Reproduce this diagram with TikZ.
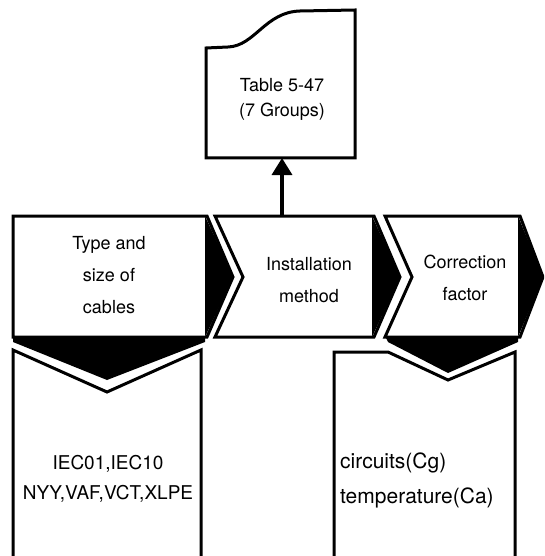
\documentclass[tikz,border=0pt]{standalone}
\usepackage{fontspec}
\setmainfont{TeX Gyre Heros}
\usetikzlibrary{arrows.meta}
\begin{document}
\begin{tikzpicture}[x=1pt, y=-1pt]
  \clip (0, 0) rectangle (544, 556);  % Seitengroesse.
  \tikzstyle{outline}=[draw, line width=3pt, fill=white]
  \tikzstyle{dark}=[fill=black]
  \tikzstyle{boxtext}=[align=center, inner sep=0pt, font=\fontsize{18}{32}\selectfont]
  \tikzstyle{listtext}=[align=center, inner sep=0pt, font=\fontsize{19}{30}\selectfont]
  \tikzstyle{notetext}=[align=left, inner sep=0pt, font=\fontsize{21}{35}\selectfont]

  % Tabelle oben
  \path[outline] (206, 158) -- (206, 48) -- (228, 47) .. controls (255, 46) and (265, 12) .. (300, 11)
                 -- (355, 10) -- (355, 158) -- cycle;

  % obere Reihe
  \path[outline] (13, 216)  -- (207, 216) -- (233, 277) -- (207, 337) -- (13, 337)  -- cycle;
  \path[dark]    (205, 216) -- (233, 277) -- (205, 337) -- cycle;
  \path[outline] (215, 216) -- (374, 216) -- (400, 277) -- (374, 337) -- (215, 337) -- (243, 277) -- cycle;
  \path[dark]    (372, 216) -- (400, 277) -- (372, 337) -- cycle;
  \path[outline] (385, 216) -- (520, 216) -- (543, 277) -- (520, 337) -- (385, 337) -- (412, 277) -- cycle;
  \path[dark]    (518, 216) -- (543, 277) -- (518, 337) -- cycle;

  % untere Kaesten
  \path[dark] (13, 336)  -- (205, 336) -- (205, 342) -- (107, 380) -- (13, 342)  -- cycle;
  \path[dark] (385, 336) -- (518, 336) -- (518, 342) -- (448, 373) -- (388, 342) -- cycle;
  \draw[line width=3pt] (13, 570)  -- (13, 350)  -- (107, 392) -- (201, 350) -- (201, 570);
  \draw[line width=3pt] (334, 570) -- (334, 352) -- (388, 352) -- (448, 380) -- (515, 352) -- (515, 570);

  \node[boxtext]  (table)   at (282, 99)  {Table 5-47\\[-7pt](7 Groups)};
  \node[boxtext]  (cables)  at (109, 275) {Type and\\size of\\cables};
  \node[boxtext]  (method)  at (309, 280) {Installation\\method};
  \node[boxtext]  (factor)  at (465, 278) {Correction\\factor};
  \node[listtext] (types)   at (108, 479) {IEC01,IEC10\\NYY,VAF,VCT,XLPE};
  \node[notetext, anchor=west] (notes) at (340, 480) {circuits(Cg)\\temperature(Ca)};

  \coordinate (tablebottom) at (282, 158);
  \coordinate (methodtop)   at (282, 216);
  \draw[line width=3.5pt, -{Triangle[length=17pt, width=20pt]}] (methodtop) -- (tablebottom);
\end{tikzpicture}
\end{document}
